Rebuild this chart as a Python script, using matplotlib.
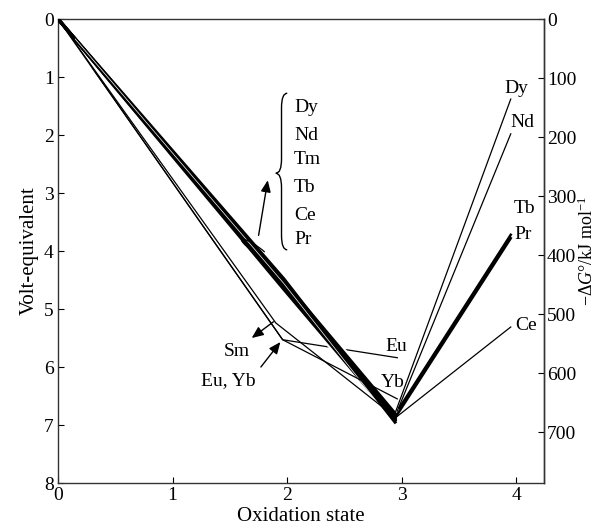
import numpy as np
import matplotlib
matplotlib.use('Agg')
import matplotlib.pyplot as plt
from matplotlib.path import Path
from matplotlib.patches import PathPatch, Arc

plt.rcParams['font.family'] = ['Liberation Serif', 'DejaVu Serif']
plt.rcParams['mathtext.fontset'] = 'custom'
plt.rcParams['mathtext.rm'] = 'Liberation Serif'
plt.rcParams['mathtext.it'] = 'Liberation Serif:italic'

# oxidation states as they sit in the drawing
ox2 = 1.97
ox3 = 2.94
ox4 = 3.95

# elements whose Ln(II) lies close to the straight line (thick bundle)
bundle = ['Dy', 'Nd', 'Tm', 'Tb', 'Ce', 'Pr']
bundle_v2 = [4.52, 4.58, 4.66, 4.56, 4.48, 4.62]
bundle_v3 = [6.80, 6.86, 6.92, 6.88, 6.95, 6.90]
bundle_v4 = [1.38, 1.98, None, 3.78, 5.31, 3.72]

# Sm, Eu, Yb (stable +2)
sm_x = [0, 1.90, 2.94]
sm_v = [0, 5.24, 6.86]
eu_x = [0, 1.96, 2.96]
eu_v = [0, 5.53, 5.84]
yb_x = [0, 1.96, 2.96]
yb_v = [0, 5.53, 6.55]

xticks = [0, 1, 2, 3, 4]
yticks = [0, 1, 2, 3, 4, 5, 6, 7, 8]
gticks = [0, 100, 200, 300, 400, 500, 600, 700]
kj_per_volt = 98.3

fig = plt.figure(figsize=(6.04, 5.29), dpi=100)
ax = fig.add_axes([58/604, 1-483/529, (544-58)/604, (483-19)/529])
ax.set_xlim(0, 4.24)
ax.set_ylim(8, 0)

# Eu line sits behind the bundle, broken where it crosses
ax.plot(eu_x, eu_v, color='black', lw=0.9, zorder=1)

# white halo under the bundle so the Eu line is cut
ax.plot([0, ox2, ox3], [0, np.mean(bundle_v2), np.mean(bundle_v3)],
        color='white', lw=9, zorder=2, solid_capstyle='butt')

for i, name in enumerate(bundle):
    xs = [0, ox2, ox3]
    vs = [0, bundle_v2[i], bundle_v3[i]]
    ax.plot(xs, vs, color='black', lw=2.3, zorder=3)
    if bundle_v4[i] is not None:
        lw4 = 1.8 if name in ('Tb', 'Pr') else 0.9
        ax.plot([ox3 + 0.02*(i % 3), ox4], [bundle_v3[i] - 0.1*(i % 3), bundle_v4[i]],
                color='black', lw=lw4, zorder=3)

# thin white gap running inside the bundle
ax.plot([0.15, ox2, ox3 - 0.15], [0.15*bundle_v2[0]/ox2, bundle_v2[0] + 0.04,
        bundle_v3[0] - 0.18], color='white', lw=0.5, zorder=3.5)

ax.plot(sm_x, sm_v, color='black', lw=0.9, zorder=4)
ax.plot(yb_x, yb_v, color='black', lw=0.9, zorder=4)

# curl around the bundle
ax.add_patch(Arc((1.72, 3.96), 0.08, 0.40, angle=-35, theta1=140, theta2=70,
                 color='black', lw=0.9, zorder=5))

arrow = dict(arrowstyle='-|>,head_length=0.7,head_width=0.3', color='black', lw=1.0,
             shrinkA=0, shrinkB=0)
ax.annotate('', xy=(1.83, 2.78), xytext=(1.75, 3.73), arrowprops=arrow, zorder=6)
ax.annotate('', xy=(1.69, 5.50), xytext=(1.88, 5.22), arrowprops=arrow, zorder=6)
ax.annotate('', xy=(1.94, 5.57), xytext=(1.77, 6.00), arrowprops=arrow, zorder=6)

# curly brace
bx, btop, bmid, bbot, bw = 1.95, 1.28, 2.66, 3.98, 0.05
verts = [(bx + bw, btop), (bx, btop), (bx, btop + 0.25),
         (bx, bmid - 0.25),
         (bx, bmid), (bx - bw, bmid),
         (bx, bmid), (bx, bmid + 0.25),
         (bx, bbot - 0.25),
         (bx, bbot), (bx + bw, bbot)]
codes = [Path.MOVETO, Path.CURVE3, Path.CURVE3,
         Path.LINETO,
         Path.CURVE3, Path.CURVE3,
         Path.CURVE3, Path.CURVE3,
         Path.LINETO,
         Path.CURVE3, Path.CURVE3]
ax.add_patch(PathPatch(Path(verts, codes), fill=False, lw=1.0, color='black'))

fs = 14
label_v = [1.53, 2.0, 2.43, 2.91, 3.38, 3.81]
for name, v in zip(bundle, label_v):
    ax.text(2.06, v, name, fontsize=fs, ha='left', va='center')

ax.text(1.56, 5.74, 'Sm', fontsize=fs, ha='center', va='center')
ax.text(1.49, 6.24, 'Eu, Yb', fontsize=fs, ha='center', va='center')
ax.text(2.95, 5.64, 'Eu', fontsize=fs, ha='center', va='center')
ax.text(2.92, 6.26, 'Yb', fontsize=fs, ha='center', va='center')
ax.text(4.0, 1.19, 'Dy', fontsize=fs, ha='center', va='center')
ax.text(4.05, 1.78, 'Nd', fontsize=fs, ha='center', va='center')
ax.text(4.07, 3.26, 'Tb', fontsize=fs, ha='center', va='center')
ax.text(4.06, 3.71, 'Pr', fontsize=fs, ha='center', va='center')
ax.text(4.08, 5.29, 'Ce', fontsize=fs, ha='center', va='center')

ax.set_xticks(xticks)
ax.set_yticks(yticks)
ax.tick_params(direction='in', length=4, labelsize=fs, pad=3)
ax.set_xlabel('Oxidation state', fontsize=fs+1, labelpad=2)
ax.set_ylabel('Volt-equivalent', fontsize=fs+1, labelpad=4)

sec = ax.secondary_yaxis('right', functions=(lambda v: v*kj_per_volt, lambda g: g/kj_per_volt))
sec.set_yticks(gticks)
sec.tick_params(direction='in', length=4, labelsize=fs, pad=2)
sec.set_ylabel('−Δ$\\mathit{G}$°/kJ mol$^{-1}$', fontsize=13, labelpad=1)

for s in ax.spines.values():
    s.set_linewidth(1.0)
    s.set_color('#333333')
sec.spines['right'].set_linewidth(1.0)
sec.spines['right'].set_color('#333333')

fig.savefig('out.png', dpi=100)
